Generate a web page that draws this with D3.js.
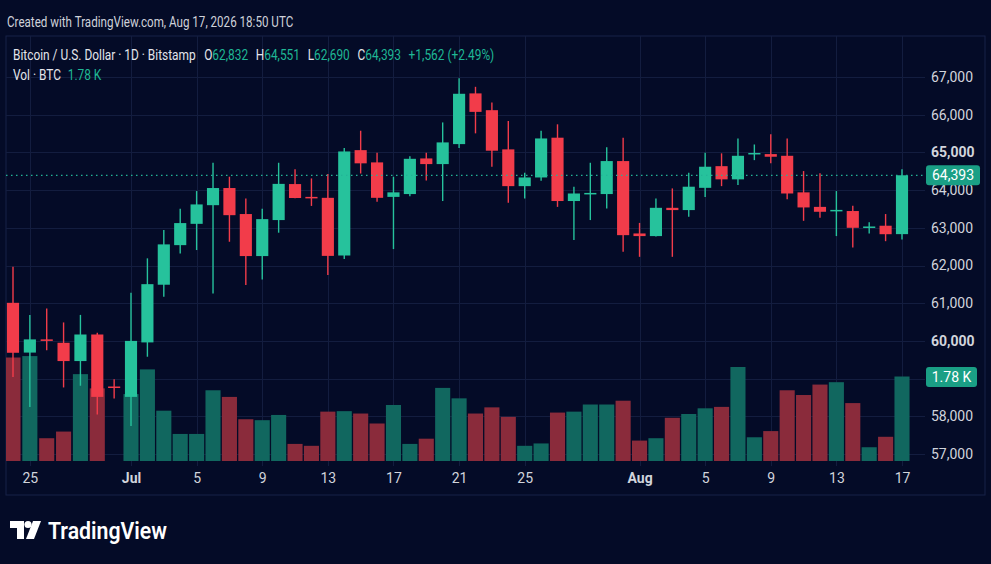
<!DOCTYPE html>
<html>
<head>
<meta charset="utf-8">
<script src="https://cdn.jsdelivr.net/npm/d3@7"></script>
<style>
  html, body { margin: 0; padding: 0; background: #040b27; }
  svg { display: block; font-family: Roboto, "Noto Sans", sans-serif; }
</style>
</head>
<body>
<div id="chart"></div>
<script>
// Daily candles, Bitstamp BTC/USD
const dates = [
  "2026-06-24","2026-06-25","2026-06-26","2026-06-27","2026-06-28","2026-06-29","2026-06-30",
  "2026-07-01","2026-07-02","2026-07-03","2026-07-04","2026-07-05","2026-07-06","2026-07-07",
  "2026-07-08","2026-07-09","2026-07-10","2026-07-11","2026-07-12","2026-07-13","2026-07-14",
  "2026-07-15","2026-07-16","2026-07-17","2026-07-18","2026-07-19","2026-07-20","2026-07-21",
  "2026-07-22","2026-07-23","2026-07-24","2026-07-25","2026-07-26","2026-07-27","2026-07-28",
  "2026-07-29","2026-07-30","2026-07-31","2026-08-01","2026-08-02","2026-08-03","2026-08-04",
  "2026-08-05","2026-08-06","2026-08-07","2026-08-08","2026-08-09","2026-08-10","2026-08-11",
  "2026-08-12","2026-08-13","2026-08-14","2026-08-15","2026-08-16","2026-08-17"
];
const opens = [
  61010, 59690, 60040, 59950, 59465, 60170, 58790, 58515, 59960, 61490, 62540, 63105, 63600, 64055,
  63365, 62250, 63205, 64160, 63820, 63795, 62265, 65060, 64735, 63820, 63895, 64840, 64690, 65220,
  66565, 66120, 65080, 64105, 64335, 65390, 63710, 63900, 63895, 64770, 62850, 62780, 63530, 63470,
  64060, 64635, 64285, 64960, 64955, 64910, 63940, 63555, 63460, 63445, 63015, 63055, 62832
];
const highs = [
  61965, 60685, 60860, 60490, 60690, 60215, 58985, 61275, 62190, 62940, 63505, 63975, 64725, 64355,
  63780, 63505, 64725, 64550, 64310, 64425, 65120, 65575, 64990, 64355, 64900, 64990, 65795, 66965,
  66740, 66325, 65830, 64460, 65575, 65745, 64090, 64725, 65135, 65390, 63130, 63780, 64045, 64460,
  64990, 64975, 65370, 65210, 65480, 65370, 64505, 64445, 63975, 63585, 63145, 63365, 64551
];
const lows = [
  59040, 58250, 59755, 58765, 58810, 58050, 58475, 57740, 59580, 61170, 62320, 62410, 61260, 62630,
  61480, 61630, 62870, 63785, 63580, 61745, 62175, 64440, 63690, 62435, 63840, 64255, 63710, 65120,
  65505, 64620, 63665, 63780, 64245, 63555, 62675, 63205, 63515, 62365, 62230, 62770, 62230, 63290,
  63820, 64105, 64135, 64795, 64710, 63755, 63185, 63265, 62780, 62480, 62850, 62645, 62690
];
const closes = [
  59685, 60040, 60000, 59465, 60170, 58515, 58770, 60000, 61505, 62560, 63125, 63620, 64055, 63335,
  62250, 63230, 64165, 63790, 63790, 62255, 65025, 64710, 63795, 63940, 64830, 64690, 65265, 66555,
  66075, 65045, 64105, 64335, 65370, 63710, 63910, 63925, 64770, 62805, 62780, 63530, 63470, 64090,
  64620, 64285, 64910, 64985, 64885, 63910, 63540, 63425, 63475, 63000, 63035, 62830, 64393
];
// volume in thousands of BTC
const volumes = [
  2.18, 2.21, 0.48, 0.62, 1.83, 1.53, 0.00, 1.41, 1.93, 1.06, 0.57, 0.57, 1.49, 1.35,
  0.88, 0.86, 0.97, 0.36, 0.32, 1.04, 1.05, 1.00, 0.79, 1.18, 0.36, 0.47, 1.54, 1.32,
  1.00, 1.13, 0.93, 0.32, 0.37, 1.02, 1.04, 1.19, 1.19, 1.27, 0.43, 0.48, 0.91, 0.99,
  1.11, 1.14, 1.98, 0.50, 0.63, 1.49, 1.39, 1.61, 1.66, 1.22, 0.29, 0.51, 1.78
];
const dateTicks = ["2026-06-25","2026-07-01","2026-07-05","2026-07-09","2026-07-13","2026-07-17",
  "2026-07-21","2026-07-25","2026-08-01","2026-08-05","2026-08-09","2026-08-13","2026-08-17"];
const priceTicks = [57000, 58000, 59000, 60000, 61000, 62000, 63000, 64000, 65000, 66000, 67000];
const lastPrice = 64393;
const lastVolume = 1.78;
const dayChange = "+1,562 (+2.49%)";

const width = 991, height = 564;
const plot = { left: 6, right: 925, top: 36, bottom: 466 };
const up = "#26c29c", down = "#f23c4a";
const upVol = "#11675f", downVol = "#8a2b3b";
const tagColor = "#1a9f85";
const textColor = "#d1d4dc";
const teal = "#1fb795";

const parse = d3.utcParse("%Y-%m-%d");
const data = dates.map((d, i) => ({
  date: parse(d), open: opens[i], high: highs[i], low: lows[i], close: closes[i], vol: volumes[i]
}));

const svg = d3.select("#chart").append("svg")
  .attr("width", width).attr("height", height);

svg.append("rect").attr("width", width).attr("height", height).attr("fill", "#040b27");

// scales
const x = d3.scaleUtc()
  .domain([parse("2026-06-24"), parse("2026-07-01"), parse("2026-08-17")])
  .range([13, 131, 902]);
const y = d3.scaleLinear().domain([57000, 67000]).range([454, 77]);
const yVol = d3.scaleLinear().domain([0, lastVolume]).range([461, 376.5]);

const step = x(parse("2026-07-02")) - x(parse("2026-07-01"));
const bodyW = step * 0.74;
const volW = step * 0.92;

// header (the screenshot text is a bit condensed)
svg.append("g").attr("transform", "translate(7,0) scale(0.83,1)")
  .append("text")
  .attr("x", 0).attr("y", 27)
  .attr("font-size", 14).attr("fill", "#cfd2da")
  .text("Created with TradingView.com, Aug 17, 2026 18:50 UTC");

// frame
svg.append("rect")
  .attr("x", 6).attr("y", 36).attr("width", 979).attr("height", 459)
  .attr("fill", "none").attr("stroke", "#172248").attr("stroke-width", 1);

// grid
const grid = svg.append("g").attr("stroke", "#131d3f").attr("stroke-width", 1);
grid.selectAll(".h").data(priceTicks).join("line")
  .attr("x1", plot.left).attr("x2", plot.right)
  .attr("y1", d => Math.round(y(d)) + 0.5).attr("y2", d => Math.round(y(d)) + 0.5);
grid.selectAll(".v").data(dateTicks.map(parse)).join("line")
  .attr("x1", d => Math.round(x(d)) + 0.5).attr("x2", d => Math.round(x(d)) + 0.5)
  .attr("y1", plot.top).attr("y2", plot.bottom);

svg.append("clipPath").attr("id", "clip").append("rect")
  .attr("x", plot.left).attr("y", plot.top)
  .attr("width", plot.right - plot.left).attr("height", plot.bottom - plot.top);

const pane = svg.append("g").attr("clip-path", "url(#clip)");

// volume
pane.append("g").selectAll("rect").data(data).join("rect")
  .attr("x", d => x(d.date) - volW / 2)
  .attr("width", volW)
  .attr("y", d => yVol(d.vol))
  .attr("height", d => yVol(0) - yVol(d.vol))
  .attr("fill", d => d.close >= d.open ? upVol : downVol);

// candles
const candle = pane.append("g").selectAll("g").data(data).join("g")
  .attr("fill", d => d.close >= d.open ? up : down)
  .attr("stroke", d => d.close >= d.open ? up : down);

candle.append("line")
  .attr("x1", d => x(d.date)).attr("x2", d => x(d.date))
  .attr("y1", d => y(d.high)).attr("y2", d => y(d.low))
  .attr("stroke-width", 1.4);

candle.append("rect")
  .attr("stroke", "none")
  .attr("x", d => x(d.date) - bodyW / 2)
  .attr("width", bodyW)
  .attr("y", d => y(Math.max(d.open, d.close)))
  .attr("height", d => Math.max(1.5, Math.abs(y(d.open) - y(d.close))));

// last price line
pane.append("line")
  .attr("x1", plot.left).attr("x2", plot.right)
  .attr("y1", y(lastPrice)).attr("y2", y(lastPrice))
  .attr("stroke", "#22b597").attr("stroke-width", 1.3)
  .attr("stroke-dasharray", "1.5,3.5");

// price axis
const yAxis = svg.append("g")
  .attr("transform", `translate(${plot.right + 6},0)`)
  .call(d3.axisRight(y).tickValues(priceTicks).tickFormat(d3.format(",")).tickSize(0).tickPadding(0));
yAxis.select(".domain").remove();
yAxis.selectAll("text")
  .attr("fill", textColor)
  .attr("font-size", 14)
  .attr("font-family", "Roboto, 'Noto Sans', sans-serif")
  .attr("font-weight", d => d % 5000 === 0 ? 700 : 400);

// time axis
const timeFmt = d => d.getUTCDate() === 1 ? d3.utcFormat("%b")(d) : d3.utcFormat("%-d")(d);
const xAxis = svg.append("g")
  .attr("transform", `translate(0,${plot.bottom + 2})`)
  .call(d3.axisBottom(x).tickValues(dateTicks.map(parse)).tickFormat(timeFmt).tickSize(0).tickPadding(5));
xAxis.select(".domain").remove();
xAxis.selectAll("text")
  .attr("fill", textColor)
  .attr("font-size", 14)
  .attr("font-family", "Roboto, 'Noto Sans', sans-serif")
  .attr("font-weight", d => d.getUTCDate() === 1 ? 700 : 400);

// price / volume tags
function tag(yPos, label, w) {
  const g = svg.append("g").attr("transform", `translate(926,${yPos})`);
  g.append("rect").attr("x", 0).attr("y", -10).attr("width", w).attr("height", 20)
    .attr("rx", 3).attr("fill", tagColor);
  g.append("text").attr("x", w / 2).attr("y", 5)
    .attr("text-anchor", "middle").attr("font-size", 14).attr("fill", "#ffffff")
    .text(label);
}
tag(y(lastPrice), d3.format(",")(lastPrice), 54);
tag(yVol(lastVolume) + 0.5, lastVolume + " K", 51);

// legend
const legendG = svg.append("g").attr("transform", "translate(13,0) scale(0.85,1)")
  .attr("font-size", 14).attr("fill", "#e3e5eb");
const legend = legendG.append("text").attr("x", 0).attr("y", 60);
legend.append("tspan").text("Bitcoin / U.S. Dollar · 1D · Bitstamp");
[["O", opens], ["H", highs], ["L", lows], ["C", closes]].forEach(([k, arr], i) => {
  legend.append("tspan").attr("dx", i === 0 ? 10 : 9).text(k);
  legend.append("tspan").attr("fill", teal).text(d3.format(",")(arr[arr.length - 1]));
});
legend.append("tspan").attr("dx", 9).attr("fill", teal).text(dayChange);

const vol = legendG.append("text").attr("x", 0).attr("y", 80);
vol.append("tspan").text("Vol · BTC");
vol.append("tspan").attr("dx", 8).attr("fill", teal).text(lastVolume + " K");

// TradingView logo
const logo = svg.append("g").attr("fill", "#ffffff");
logo.append("path").attr("d", "M10,521 H24 V539 H17 V528 H10 Z");
logo.append("circle").attr("cx", 28).attr("cy", 524.5).attr("r", 3.6);
logo.append("path").attr("d", "M33,521 H41 L34,539 H26 Z");
logo.append("text")
  .attr("x", 48).attr("y", 539)
  .attr("font-size", 24).attr("font-weight", 600)
  .attr("textLength", 119).attr("lengthAdjust", "spacingAndGlyphs")
  .text("TradingView");
</script>
</body>
</html>
